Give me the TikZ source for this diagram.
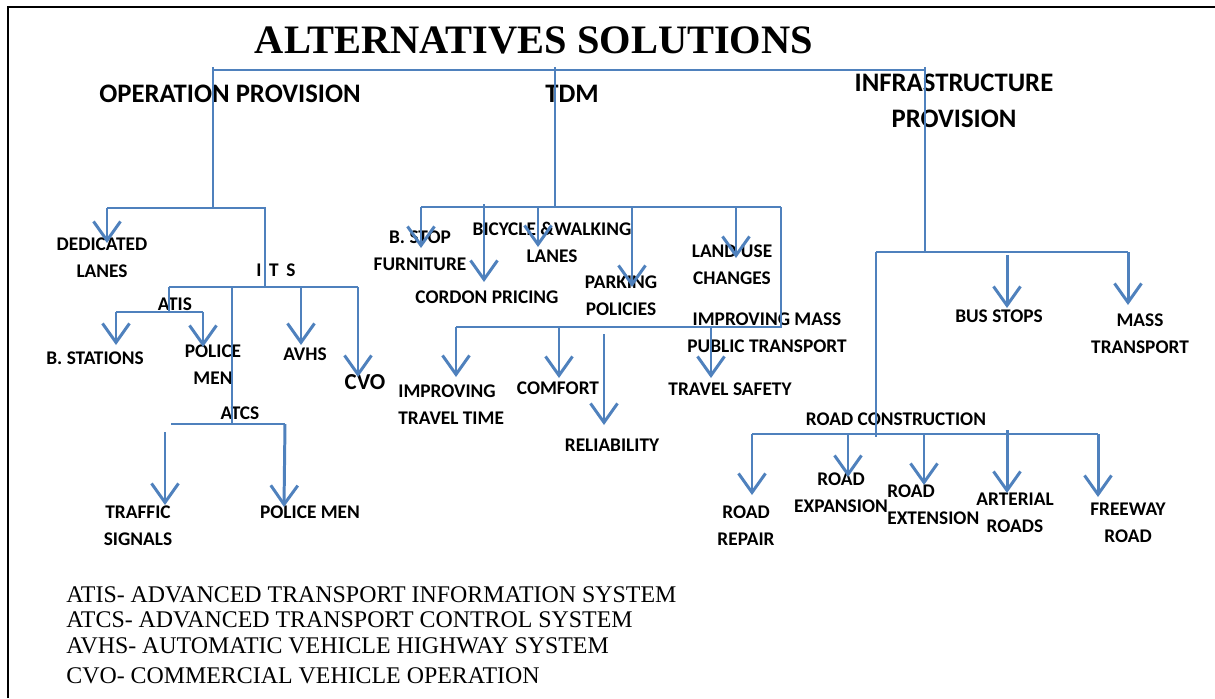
\documentclass[tikz,border=0pt]{standalone}
\usepackage{fontspec}
\setmainfont{Liberation Serif}
\newfontfamily\lblfont{Carlito}
\usetikzlibrary{arrows.meta}
\definecolor{lineblue}{RGB}{79,129,189}
\begin{document}
\begin{tikzpicture}[x=0.02cm,y=-0.02cm,
    lbl/.style ={inner sep=0pt, align=center, font=\lblfont\bfseries\fontsize{11}{15.3}\selectfont},
    head/.style ={inner sep=0pt, align=center, font=\lblfont\bfseries\fontsize{15.2}{20.7}\selectfont},
    legend/.style ={inner sep=0pt, anchor=west, font=\fontsize{13.6}{15}\selectfont},
    link/.style ={draw=lineblue, line width=1pt},
    arr/.style ={draw=lineblue, line width=1.7pt, -{Straight Barb[length=3.8mm,width=5.4mm]}}]
   \useasboundingbox (0,0) rectangle (1215,698);
   \draw[line width=1.2pt] (8,698) -- (8,7) -- (1215,7);

   % titles
   \node[inner sep=0pt, font=\bfseries\fontsize{23}{26}\selectfont] (title) at (534,40) {ALTERNATIVES SOLUTIONS};
   \node[head] (oper)  at (230,94)  {OPERATION PROVISION};
   \node[head] (tdm)   at (572,94)  {TDM};
   \node[head] (infra) at (954,101) {INFRASTRUCTURE\\PROVISION};

   % operation provision
   \node[lbl] (dedic)  at (102,257.5) {DEDICATED\\LANES};
   \node[lbl] (its)    at (276,270)   {I\, T\, S};
   \node[lbl] (atis)   at (175,304)   {ATIS};
   \node[lbl] (bstat)  at (95,358)    {B. STATIONS};
   \node[lbl] (police) at (213,364.5) {POLICE\\MEN};
   \node[lbl] (avhs)   at (305,354)   {AVHS};
   \node[lbl, font=\lblfont\bfseries\fontsize{13}{15}\selectfont] (cvo) at (365,382) {CVO};
   \node[lbl] (atcs)   at (240,413)   {ATCS};
   \node[lbl] (signal) at (138,525.5) {TRAFFIC\\SIGNALS};
   \node[lbl] (polmen) at (310,512)   {POLICE MEN};

   % tdm
   \node[lbl] (bstop)   at (420,251)   {B. STOP\\FURNITURE};
   \node[lbl] (cordon)  at (487,297)   {CORDON PRICING};
   \node[lbl] (bicycle) at (552,242.5) {BICYCLE \&WALKING\\LANES};
   \node[lbl] (parking) at (621,295.5) {PARKING\\POLICIES};
   \node[lbl] (landuse) at (732,264.5) {LAND USE\\CHANGES};
   \node[lbl] (mass)    at (767,332.5) {IMPROVING MASS\\PUBLIC TRANSPORT};
   \node[lbl, align=left, anchor=west] (ttime) at (398,404.5) {IMPROVING\\TRAVEL TIME};
   \node[lbl] (comfort) at (558,388)   {COMFORT};
   \node[lbl] (reliab)  at (612,445)   {RELIABILITY};
   \node[lbl] (safety)  at (730,389)   {TRAVEL SAFETY};

   % infrastructure provision
   \node[lbl] (busstop) at (999,316)   {BUS STOPS};
   \node[lbl] (masstr)  at (1140,334)  {MASS\\TRANSPORT};
   \node[lbl] (roadcon) at (896,419)   {ROAD CONSTRUCTION};
   \node[lbl] (repair)  at (746,526)   {ROAD\\REPAIR};
   \node[lbl] (expans)  at (841,493)   {ROAD\\EXPANSION};
   \node[lbl, align=left, anchor=west] (extens) at (887,504.5) {ROAD\\EXTENSION};
   \node[lbl] (arter)   at (1015,512.5) {ARTERIAL\\ROADS};
   \node[lbl] (freeway) at (1128,523)  {FREEWAY\\ROAD};

   % legend
   \node[legend] (leg1) at (66,595) {ATIS- ADVANCED TRANSPORT INFORMATION SYSTEM};
   \node[legend] (leg2) at (66,620) {ATCS- ADVANCED TRANSPORT CONTROL SYSTEM};
   \node[legend] (leg3) at (66,646) {AVHS- AUTOMATIC VEHICLE HIGHWAY SYSTEM};
   \node[legend] (leg4) at (66,676) {CVO- COMMERCIAL VEHICLE OPERATION};

   % junctions
   \coordinate (opTop)  at (213,67);
   \coordinate (opJ)    at (213,208);
   \coordinate (opL)    at (107,208);
   \coordinate (opR)    at (265,208);
   \coordinate (tdmTop) at (555,67);
   \coordinate (tdmJ)   at (555,207);
   \coordinate (infTop) at (925,67);
   \coordinate (infJ)   at (925,252);
   \coordinate (topL)   at (213,70);
   \coordinate (topR)   at (925,70);

   \coordinate (itsJ)  at (265,287);
   \coordinate (itsA)  at (169,287);
   \coordinate (itsB)  at (232,287);
   \coordinate (itsC)  at (301,287);
   \coordinate (itsD)  at (358,287);
   \coordinate (atisJ) at (169,312);
   \coordinate (atisL) at (116,312);
   \coordinate (atisR) at (203,312);
   \coordinate (atcsJ) at (232,424);
   \coordinate (atcsL) at (171,424);
   \coordinate (atcsR) at (285,424);
   \coordinate (sigTop) at (165,432);

   \coordinate (tdmA) at (421,207);
   \coordinate (tdmB) at (484,204);
   \coordinate (tdmC) at (538,207);
   \coordinate (tdmD) at (632,207);
   \coordinate (tdmE) at (736,207);
   \coordinate (tdmF) at (781,207);
   \coordinate (tdmG) at (781,327);
   \coordinate (lowA) at (456,327);
   \coordinate (lowB) at (559,327);
   \coordinate (lowC) at (604,334);
   \coordinate (lowD) at (711,327);

   \coordinate (infL)  at (876,252);
   \coordinate (infB)  at (1007,255);
   \coordinate (infR)  at (1128,252);
   \coordinate (rcJ)   at (876,437);
   \coordinate (rcA)   at (752,434);
   \coordinate (rcB)   at (848,434);
   \coordinate (rcC)   at (924,434);
   \coordinate (rcD)   at (1007,430);
   \coordinate (rcE)   at (1098,434);

   % tips
   \coordinate (dedTip)  at (107,243);
   \coordinate (bstTip)  at (116,345);
   \coordinate (polTip)  at (203,347);
   \coordinate (avhsTip) at (301,345);
   \coordinate (cvoTip)  at (358,377);
   \coordinate (sigTip)  at (165,505);
   \coordinate (pmTip)   at (284,507);
   \coordinate (bsTip)   at (421,248);
   \coordinate (corTip)  at (484,282);
   \coordinate (bicTip)  at (538,247);
   \coordinate (parTip)  at (632,287);
   \coordinate (lanTip)  at (736,258);
   \coordinate (timTip)  at (456,377);
   \coordinate (comTip)  at (559,378);
   \coordinate (relTip)  at (604,425);
   \coordinate (safTip)  at (711,378);
   \coordinate (busTip)  at (1007,308);
   \coordinate (masTip)  at (1128,305);
   \coordinate (repTip)  at (752,495);
   \coordinate (expTip)  at (848,477);
   \coordinate (extTip)  at (924,485);
   \coordinate (artTip)  at (1007,493);
   \coordinate (freTip)  at (1098,497);

   % connectors
   \draw[link] (topL) -- (topR);
   \draw[link] (opTop) -- (opJ);
   \draw[link] (tdmTop) -- (tdmJ);
   \draw[link] (infTop) -- (infJ);

   \draw[link] (opL) -- (opR) -- (itsJ);
   \draw[link] (itsA) -- (itsD);
   \draw[link] (itsA) -- (atisJ);
   \draw[link] (atisL) -- (atisR);
   \draw[link] (itsB) -- (atcsJ);
   \draw[link] (atcsL) -- (atcsR);
   \draw[arr] (opL) -- (dedTip);
   \draw[arr] (atisL) -- (bstTip);
   \draw[arr] (atisR) -- (polTip);
   \draw[arr] (itsC) -- (avhsTip);
   \draw[arr] (itsD) -- (cvoTip);
   \draw[arr] (sigTop) -- (sigTip);
   \draw[arr] (atcsR) -- (pmTip);

   \draw[link] (tdmA) -- (tdmF);
   \draw[link] (tdmF) -- (tdmG) -- (lowA);
   \draw[arr] (tdmA) -- (bsTip);
   \draw[arr] (tdmB) -- (corTip);
   \draw[arr] (tdmC) -- (bicTip);
   \draw[arr] (tdmD) -- (parTip);
   \draw[arr] (tdmE) -- (lanTip);
   \draw[arr] (lowA) -- (timTip);
   \draw[arr] (lowB) -- (comTip);
   \draw[arr] (lowC) -- (relTip);
   \draw[arr] (lowD) -- (safTip);

   \draw[link] (infL) -- (infR);
   \draw[link] (infL) -- (rcJ);
   \draw[link] (rcA) -- (rcE);
   \draw[arr] (infB) -- (busTip);
   \draw[arr] (infR) -- (masTip);
   \draw[arr] (rcA) -- (repTip);
   \draw[arr] (rcB) -- (expTip);
   \draw[arr] (rcC) -- (extTip);
   \draw[arr] (rcD) -- (artTip);
   \draw[arr] (rcE) -- (freTip);
 \end{tikzpicture}
\end{document}
